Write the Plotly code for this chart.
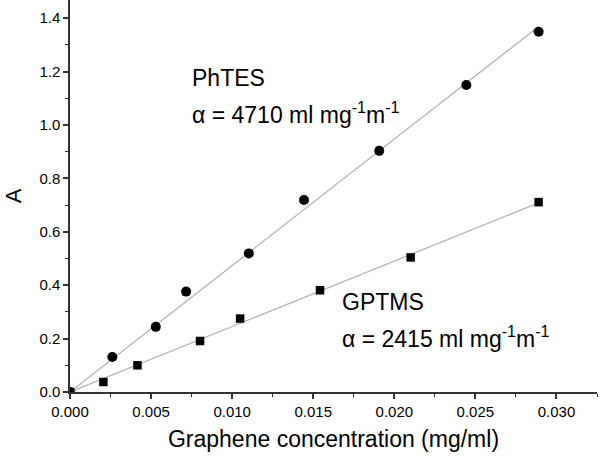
import numpy as np
import plotly.graph_objects as go

# PhTES (circles)
phtes_x = [0.0, 0.00261, 0.00529, 0.00716, 0.01103, 0.01443, 0.01907, 0.02444, 0.0289]
phtes_y = [0.0, 0.131, 0.244, 0.376, 0.519, 0.719, 0.903, 1.150, 1.349]
# GPTMS (squares)
gptms_x = [0.0, 0.00206, 0.00416, 0.00802, 0.01049, 0.01542, 0.02101, 0.0289]
gptms_y = [0.0, 0.0375, 0.100, 0.191, 0.275, 0.381, 0.504, 0.711]

x_ticks = [0.000, 0.005, 0.010, 0.015, 0.020, 0.025, 0.030]
x_tick_labels = ["0.000", "0.005", "0.010", "0.015", "0.020", "0.025", "0.030"]
y_ticks = [0.0, 0.2, 0.4, 0.6, 0.8, 1.0, 1.2, 1.4]
y_tick_labels = ["0.0", "0.2", "0.4", "0.6", "0.8", "1.0", "1.2", "1.4"]

FONT = "Arial, Liberation Sans, sans-serif"


def fit_origin(xs, ys):
    xs = np.asarray(xs)
    ys = np.asarray(ys)
    k = float((xs * ys).sum() / (xs * xs).sum())
    xl = np.array([0.0, xs.max()])
    return xl, k * xl


fig = go.Figure()
for xs, ys in [(phtes_x, phtes_y), (gptms_x, gptms_y)]:
    xl, yl = fit_origin(xs, ys)
    fig.add_trace(go.Scatter(x=xl, y=yl, mode="lines",
                             line=dict(color="#b4b4b4", width=1.3),
                             showlegend=False, hoverinfo="skip"))

fig.add_trace(go.Scatter(x=phtes_x, y=phtes_y, mode="markers", name="PhTES",
                         marker=dict(symbol="circle", size=10, color="black"),
                         showlegend=False))
fig.add_trace(go.Scatter(x=gptms_x, y=gptms_y, mode="markers", name="GPTMS",
                         marker=dict(symbol="square", size=8.5, color="black"),
                         showlegend=False))

ann_font = dict(family=FONT, size=23, color="black")
ann_specs = [
    (190, 78, "PhTES"),
    (190, 113, "α = 4710 ml mg<sup>-1</sup>m<sup>-1</sup>"),
    (340, 302, "GPTMS"),
    (340, 337, "α = 2415 ml mg<sup>-1</sup>m<sup>-1</sup>"),
]

L, R, T, B = 70, 3, 0, 68
W, H = 600, 460
pw, ph = W - L - R, H - T - B
for px, py, txt in ann_specs:
    fig.add_annotation(x=(px - L) / pw, y=1 - (py - T) / ph, xref="paper", yref="paper",
                       text=txt, showarrow=False, font=ann_font,
                       xanchor="left", yanchor="middle")

fig.update_layout(
    width=W, height=H,
    margin=dict(l=L, r=R, t=T, b=B),
    paper_bgcolor="white", plot_bgcolor="white",
    font=dict(family=FONT, color="black"),
    xaxis=dict(
        range=[0, 0.0325], tickvals=x_ticks, ticktext=x_tick_labels, automargin=False,
        showgrid=False, zeroline=False, showline=True, linecolor="#333333",
        linewidth=1.5, ticks="outside", ticklen=5, tickwidth=1.5, tickcolor="#333333",
        minor=dict(dtick=0.0025, ticks="outside", ticklen=3, tickwidth=1.2, tickcolor="#333333"),
        tickfont=dict(family=FONT, size=15, color="black"),
        title=dict(text="Graphene concentration (mg/ml)",
                   font=dict(family=FONT, size=23, color="black"), standoff=12),
    ),
    yaxis=dict(
        range=[0, 1.468], tickvals=y_ticks, ticktext=y_tick_labels, automargin=False,
        showgrid=False, zeroline=False, showline=True, linecolor="#333333",
        linewidth=1.5, ticks="outside", ticklen=5, tickwidth=1.5, tickcolor="#333333",
        minor=dict(dtick=0.1, ticks="outside", ticklen=3, tickwidth=1.2, tickcolor="#333333"),
        tickfont=dict(family=FONT, size=15, color="black"),
        title=dict(text="A", font=dict(family=FONT, size=22, color="black"), standoff=12),
    ),
)

fig.write_html("out.html", config={"displayModeBar": False},
               post_script="document.body.style.margin='0';document.body.style.padding='0';")
